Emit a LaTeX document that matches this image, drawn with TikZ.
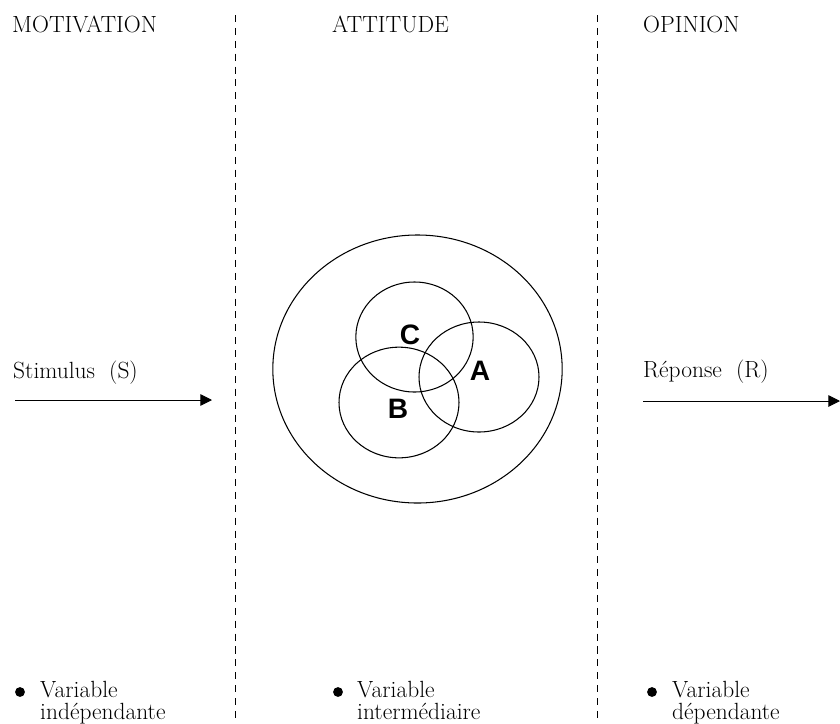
\documentclass[tikz,border=0pt]{standalone}
\usepackage{fontspec}
\newfontfamily\lettrefont{Liberation Sans}
\usetikzlibrary{arrows.meta}

\begin{document}
\begin{tikzpicture}[x=0.03cm,y=-0.03cm,
    txt/.style={anchor=base west,inner sep=0pt,font=\fontsize{20}{22}\selectfont},
    lettre/.style={inner sep=0pt,font=\lettrefont\bfseries\fontsize{24}{24}\selectfont},
    separation/.style={line width=0.7pt,dash pattern=on 6pt off 5pt},
    fleche/.style={-{Triangle[length=10pt,width=10pt]},line width=0.8pt},
    rond/.style={line width=0.9pt}]
    \useasboundingbox (0,0) rectangle (840,723);

    % colonnes
    \coordinate (haut1) at (235,15); \coordinate (bas1) at (235,723);
    \coordinate (haut2) at (597,15); \coordinate (bas2) at (597,723);
    \draw[separation](haut1)--(bas1);
    \draw[separation](haut2)--(bas2);

    \node[txt] (motivation) at (12,32) {MOTIVATION};
    \node[txt] (attitude) at (332,32) {ATTITUDE};
    \node[txt] (opinion) at (643,32) {OPINION};

    % stimulus et reponse
    \node[txt] (stimulus) at (13,378) {Stimulus\ \ (S)};
    \node[txt] (reponse) at (643,377) {Réponse\ \ (R)};
    \coordinate (s0) at (15,400); \coordinate (s1) at (212,400);
    \coordinate (r0) at (643,401); \coordinate (r1) at (840,401);
    \draw[fleche](s0)--(s1);
    \draw[fleche](r0)--(r1);

    % attitude
    \coordinate (global) at (417.5,369);
    \coordinate (cA) at (479,377);
    \coordinate (cB) at (399,402.5);
    \coordinate (cC) at (414.5,337);
    \draw[rond](global) ellipse [x radius=4.34cm, y radius=4.02cm];
    \draw[rond](cC) ellipse [x radius=1.76cm, y radius=1.65cm];
    \draw[rond](cA) ellipse [x radius=1.8cm, y radius=1.65cm];
    \draw[rond](cB) ellipse [x radius=1.8cm, y radius=1.66cm];
    \node[lettre] (A) at (480,371) {A};
    \node[lettre] (B) at (398,409) {B};
    \node[lettre] (C) at (410,335) {C};

    % variables
    \fill (20,692) circle (4.2pt);
    \fill (338,692) circle (4.2pt);
    \fill (652,692) circle (4.2pt);
    \node[txt] (var1) at (40,697) {Variable};
    \node[txt] (indep) at (40,719) {indépendante};
    \node[txt] (var2) at (357,697) {Variable};
    \node[txt] (inter) at (357,719) {intermédiaire};
    \node[txt] (var3) at (672,697) {Variable};
    \node[txt] (dep) at (672,719) {dépendante};
\end{tikzpicture}
\end{document}
